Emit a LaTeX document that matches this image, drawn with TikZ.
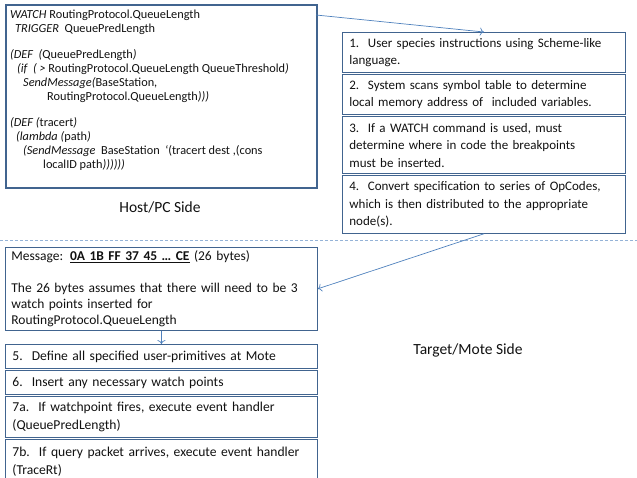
\documentclass[tikz,border=0pt]{standalone}
\usepackage{fontspec}
\setmainfont{Carlito}
\usetikzlibrary{arrows.meta}
\definecolor{boxline}{HTML}{41648F}
\definecolor{flowline}{HTML}{4F81BD}
\definecolor{sepline}{HTML}{95B3D7}
\definecolor{ink}{HTML}{111111}

\begin{document}
\begin{tikzpicture}[x=1pt, y=-1pt, text=ink,
        stepbox/.style={draw=boxline, line width=0.8pt, anchor=north west, inner xsep=7pt, inner ysep=0pt,
            text width=#1, align=left, font=\fontsize{13}{17.5}\selectfont},
        flow/.style={draw=flowline, line width=0.7pt, -{To[length=4pt, width=8pt]}},
        sidelabel/.style={font=\fontsize{15.5}{18}\selectfont}]
    \useasboundingbox (0,0) rectangle (637,478);

    \node[draw=boxline, line width=1.6pt, anchor=north west, minimum width=311pt, minimum height=183pt] (host) at (5,4) {};
    \node[anchor=north west, inner sep=0pt, align=left, font=\fontsize{12.3}{14}\selectfont] (hostcode) at (10,10) {%
        \textit{WATCH} RoutingProtocol.QueueLength\\
        \hspace*{5pt}\textit{TRIGGER}\ \ QueuePredLength\\[12pt]
        \textit{(DEF\ \ (}QueuePredLength\textit{)}\\
        \hspace*{7pt}\textit{(if\ \ ( >} RoutingProtocol.QueueLength QueueThreshold\textit{)}\\
        \hspace*{13pt}\textit{SendMessage(}BaseStation,\\
        \hspace*{37pt}RoutingProtocol.QueueLength\textit{)))}\\[12pt]
        \textit{(DEF (}tracert\textit{)}\\
        \hspace*{6pt}\textit{(lambda (}path\textit{)}\\
        \hspace*{13pt}\textit{(SendMessage}\ \ BaseStation\ \ `(tracert dest ,(cons\\
        \hspace*{33pt}localID path\textit{))))))}};
    \node[sidelabel] (hostside) at (160,207) {Host/PC Side};

    \node[stepbox=269pt, minimum height=40pt] (s1) at (342,32) {1.\ \ User species instructions using Scheme-like\\language.};
    \node[stepbox=269pt, minimum height=40pt] (s2) at (342,74) {2.\ \ System scans symbol table to determine\\local memory address of\ \ included variables.};
    \node[stepbox=269pt, minimum height=57.5pt] (s3) at (342,116) {3.\ \ If a WATCH command is used, must\\determine where in code the breakpoints\\must be inserted.};
    \node[stepbox=269pt, minimum height=57.5pt] (s4) at (342,175.5) {4.\ \ Convert specification to series of OpCodes,\\which is then distributed to the appropriate\\node(s).};

    \coordinate (sepleft) at (0,241);
    \coordinate (sepright) at (637,241);
    \draw[sepline, line width=1pt, dash pattern=on 3pt off 2pt] (sepleft) -- (sepright);

    \node[draw=boxline, line width=0.8pt, anchor=north west, inner xsep=6pt, text width=300pt, align=left,
        minimum height=79pt, font=\fontsize{13.5}{16}\selectfont] (msg) at (5,247) {%
        Message: \underline{\textbf{0A 1B FF 37 45 … CE}} (26 bytes)\\[16pt]
        The 26 bytes assumes that there will need to be 3\\
        watch points inserted for\\
        RoutingProtocol.QueueLength};

    \node[stepbox=298pt, minimum height=24pt, font=\fontsize{13.6}{17.5}\selectfont] (p5) at (5,344) {5.\ \ Define all specified user-primitives at Mote};
    \node[stepbox=298pt, minimum height=24pt, font=\fontsize{13.6}{17.5}\selectfont] (p6) at (5,370) {6.\ \ Insert any necessary watch points};
    \node[stepbox=298pt, minimum height=41pt, font=\fontsize{13.6}{17.5}\selectfont] (p7a) at (5,396) {7a.\ \ If watchpoint fires, execute event handler\\(QueuePredLength)};
    \node[stepbox=298pt, minimum height=45pt, font=\fontsize{13.6}{17.5}\selectfont] (p7b) at (5,439) {7b.\ \ If query packet arrives, execute event handler\\(TraceRt)};
    \node[sidelabel] (moteside) at (468,350) {Target/Mote Side};

    \coordinate (hostout) at (316,15);
    \draw[flow] (hostout) -- (s1.north);
    \draw[flow] (s4.south) -- (msg.east);
    \draw[flow] (msg.south) -- (p5.north);
\end{tikzpicture}
\end{document}
